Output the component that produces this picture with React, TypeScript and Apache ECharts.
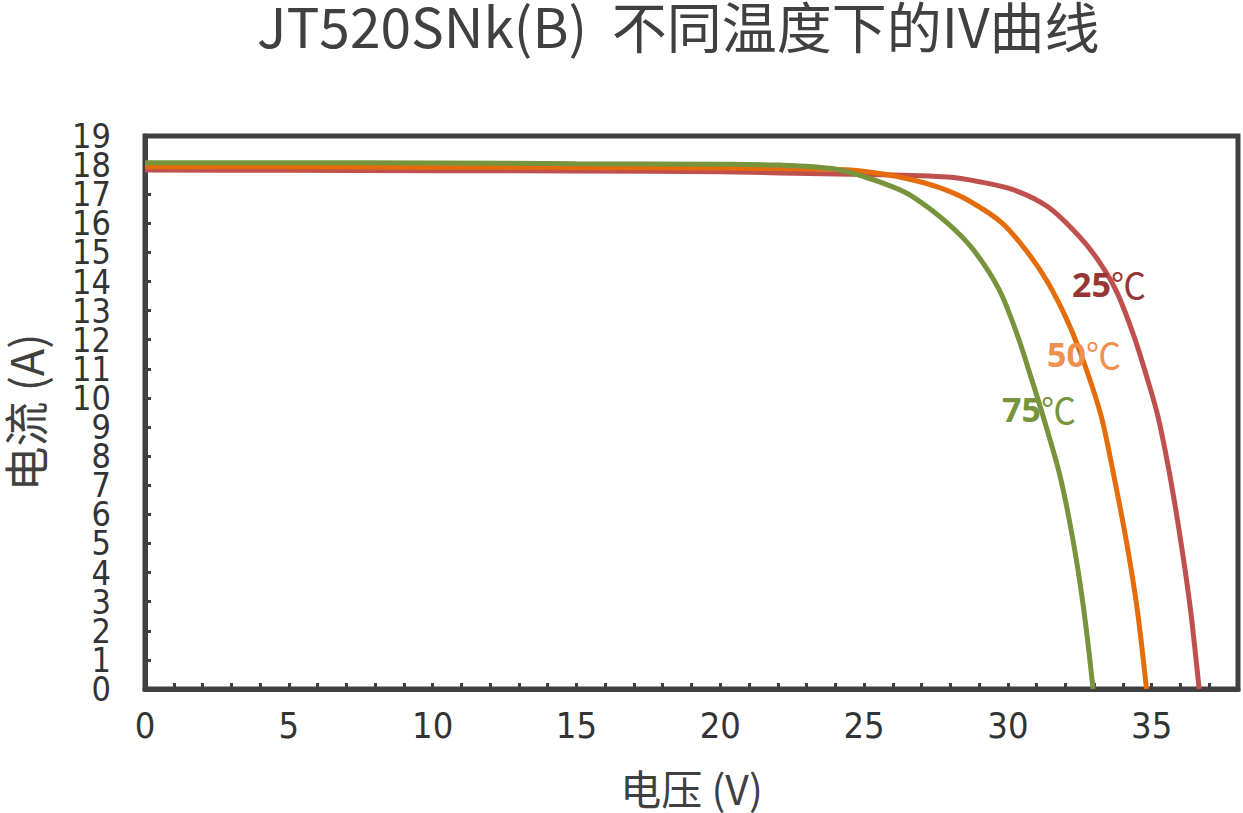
import React, { useEffect, useRef } from "react";
import * as echarts from "echarts";

const titleText = "JT520SNk(B)  不同温度下的IV曲线";
const xName = "电压 (V)";
const yName = "电流 (A)";

const seriesNames = ["25℃", "50℃", "75℃"];

const v25 = [0, 5, 10, 15, 20, 22.1, 25, 27.9, 29, 30.2, 31.4, 32.5, 33.2, 33.8, 34.39, 34.83, 35.22, 35.64, 36.02, 36.35, 36.65];
const i25 = [17.83, 17.82, 17.81, 17.8, 17.77, 17.73, 17.68, 17.59, 17.43, 17.15, 16.56, 15.53, 14.64, 13.61, 12.1, 10.72, 9.35, 7.29, 5.02, 2.71, 0];

const v50 = [0, 5, 10, 15, 20, 22, 24.4, 25.6, 26.7, 27.7, 28.6, 29.8, 30.7, 31.4, 32.1, 32.65, 33.25, 33.69, 34.13, 34.5, 34.82];
const i50 = [17.94, 17.94, 17.93, 17.92, 17.9, 17.88, 17.84, 17.7, 17.49, 17.2, 16.8, 16.01, 14.98, 13.95, 12.58, 11.2, 9.35, 7.29, 5.02, 2.71, 0];

const v75 = [0, 5, 10, 15, 20, 22.1, 23.9, 25, 26, 26.7, 27.9, 28.8, 29.7, 30.35, 30.8, 31.2, 31.82, 32.28, 32.64, 32.96];
const i75 = [18.08, 18.08, 18.07, 18.05, 18.03, 18.0, 17.88, 17.6, 17.25, 16.91, 16.01, 15.09, 13.71, 12.1, 10.72, 9.45, 7.29, 5.02, 2.71, 0];

const yEndLabels = [0, 19];

const lineColors = ["#c0504d", "#e46c0a", "#77933c"];
const labelColors = ["#953735", "#ef9050", "#77933c"];

function pairs(v: number[], c: number[]) {
  return v.map((x, k) => [x, c[k]]);
}

export default function App() {
  const ref = useRef<HTMLDivElement>(null);
  useEffect(() => {
    if (!ref.current) return;
    const chart = echarts.init(ref.current, undefined, { renderer: "svg" });
    const axisColor = "#404040";
    const all = [pairs(v25, i25), pairs(v50, i50), pairs(v75, i75)];
    const labelPos = [
      [1072, 266],
      [1047, 336],
      [1002, 391],
    ];
    const yLabelStyle = {
      fontSize: 34,
      color: "#333333",
      fontWeight: 500,
      fontFamily: "Liberation Sans Narrow, DejaVu Sans Condensed, sans-serif",
      margin: 34,
      hideOverlap: false,
    };
    chart.setOption({
      animation: false,
      backgroundColor: "#ffffff",
      title: {
        text: titleText,
        left: 257,
        top: 0,
        padding: 0,
        textStyle: {
          fontSize: 55,
          lineHeight: 48,
          fontWeight: "normal",
          color: "#404040",
          fontFamily: "Noto Sans CJK SC",
        },
      },
      grid: {
        left: 145,
        right: 5,
        top: 136,
        bottom: 124,
        show: true,
        borderColor: axisColor,
        borderWidth: 5,
        containLabel: false,
        outerBoundsMode: "none",
      },
      xAxis: {
        type: "value",
        min: 0,
        max: 38,
        interval: 5,
        name: xName,
        nameLocation: "middle",
        nameGap: 79,
        nameTextStyle: { fontSize: 41, lineHeight: 38, color: "#404040", fontFamily: "Noto Sans CJK SC" },
        axisLine: { show: true, lineStyle: { color: axisColor, width: 5 } },
        axisTick: { show: true, inside: true, length: 6, lineStyle: { color: axisColor, width: 3 } },
        minorTick: { show: true, splitNumber: 5, length: 6, lineStyle: { color: axisColor, width: 3 } },
        splitLine: { show: false },
        axisLabel: {
          fontSize: 36,
          color: "#333333",
          fontFamily: "Liberation Sans Narrow, DejaVu Sans Condensed, sans-serif",
          margin: 18,
          formatter: (val: number) => (val % 5 === 0 ? String(val) : ""),
        },
      },
      yAxis: [
        {
          type: "value",
          position: "left",
          min: 0,
          max: 19,
          interval: 1,
          name: yName,
          nameLocation: "middle",
          nameGap: 101,
          nameTextStyle: { fontSize: 45, lineHeight: 40, color: "#404040", fontFamily: "Noto Sans CJK SC" },
          axisLine: { show: true, lineStyle: { color: axisColor, width: 5 } },
          axisTick: { show: true, inside: true, length: 6, lineStyle: { color: axisColor, width: 3 } },
          splitLine: { show: false },
          axisLabel: { ...yLabelStyle, showMinLabel: false, showMaxLabel: false },
        },
        {
          type: "value",
          position: "left",
          min: 0,
          max: 19,
          interval: 1,
          axisLine: { show: false },
          axisTick: { show: false },
          splitLine: { show: false },
          axisLabel: {
            ...yLabelStyle,
            showMinLabel: true,
            showMaxLabel: true,
            formatter: (val: number) => (yEndLabels.indexOf(val) >= 0 ? String(val) : ""),
          },
        },
      ],
      series: all.map((d, k) => ({
        name: seriesNames[k],
        type: "line",
        yAxisIndex: 0,
        data: d,
        showSymbol: false,
        symbol: "none",
        smooth: 0.3,
        lineStyle: { color: lineColors[k], width: 5 },
        z: 2 + k,
      })),
      graphic: seriesNames.map((n, k) => ({
        type: "text",
        left: labelPos[k][0],
        top: labelPos[k][1],
        z: 10,
        style: {
          text: "{a|" + n.replace("℃", "") + "}{b|℃}",
          rich: {
            a: {
              fontSize: 34,
              fontWeight: "bold",
              fontFamily: "Noto Sans",
              fill: labelColors[k],
              color: labelColors[k],
            },
            b: {
              fontSize: 35,
              fontWeight: "normal",
              fontFamily: "Noto Sans CJK SC",
              fill: labelColors[k],
              color: labelColors[k],
            },
          },
        },
      })),
    });
    return () => chart.dispose();
  }, []);
  return (
    <div
      ref={ref}
      style={{ position: "fixed", left: 0, top: 0, width: 1243, height: 813, background: "#fff" }}
    />
  );
}
